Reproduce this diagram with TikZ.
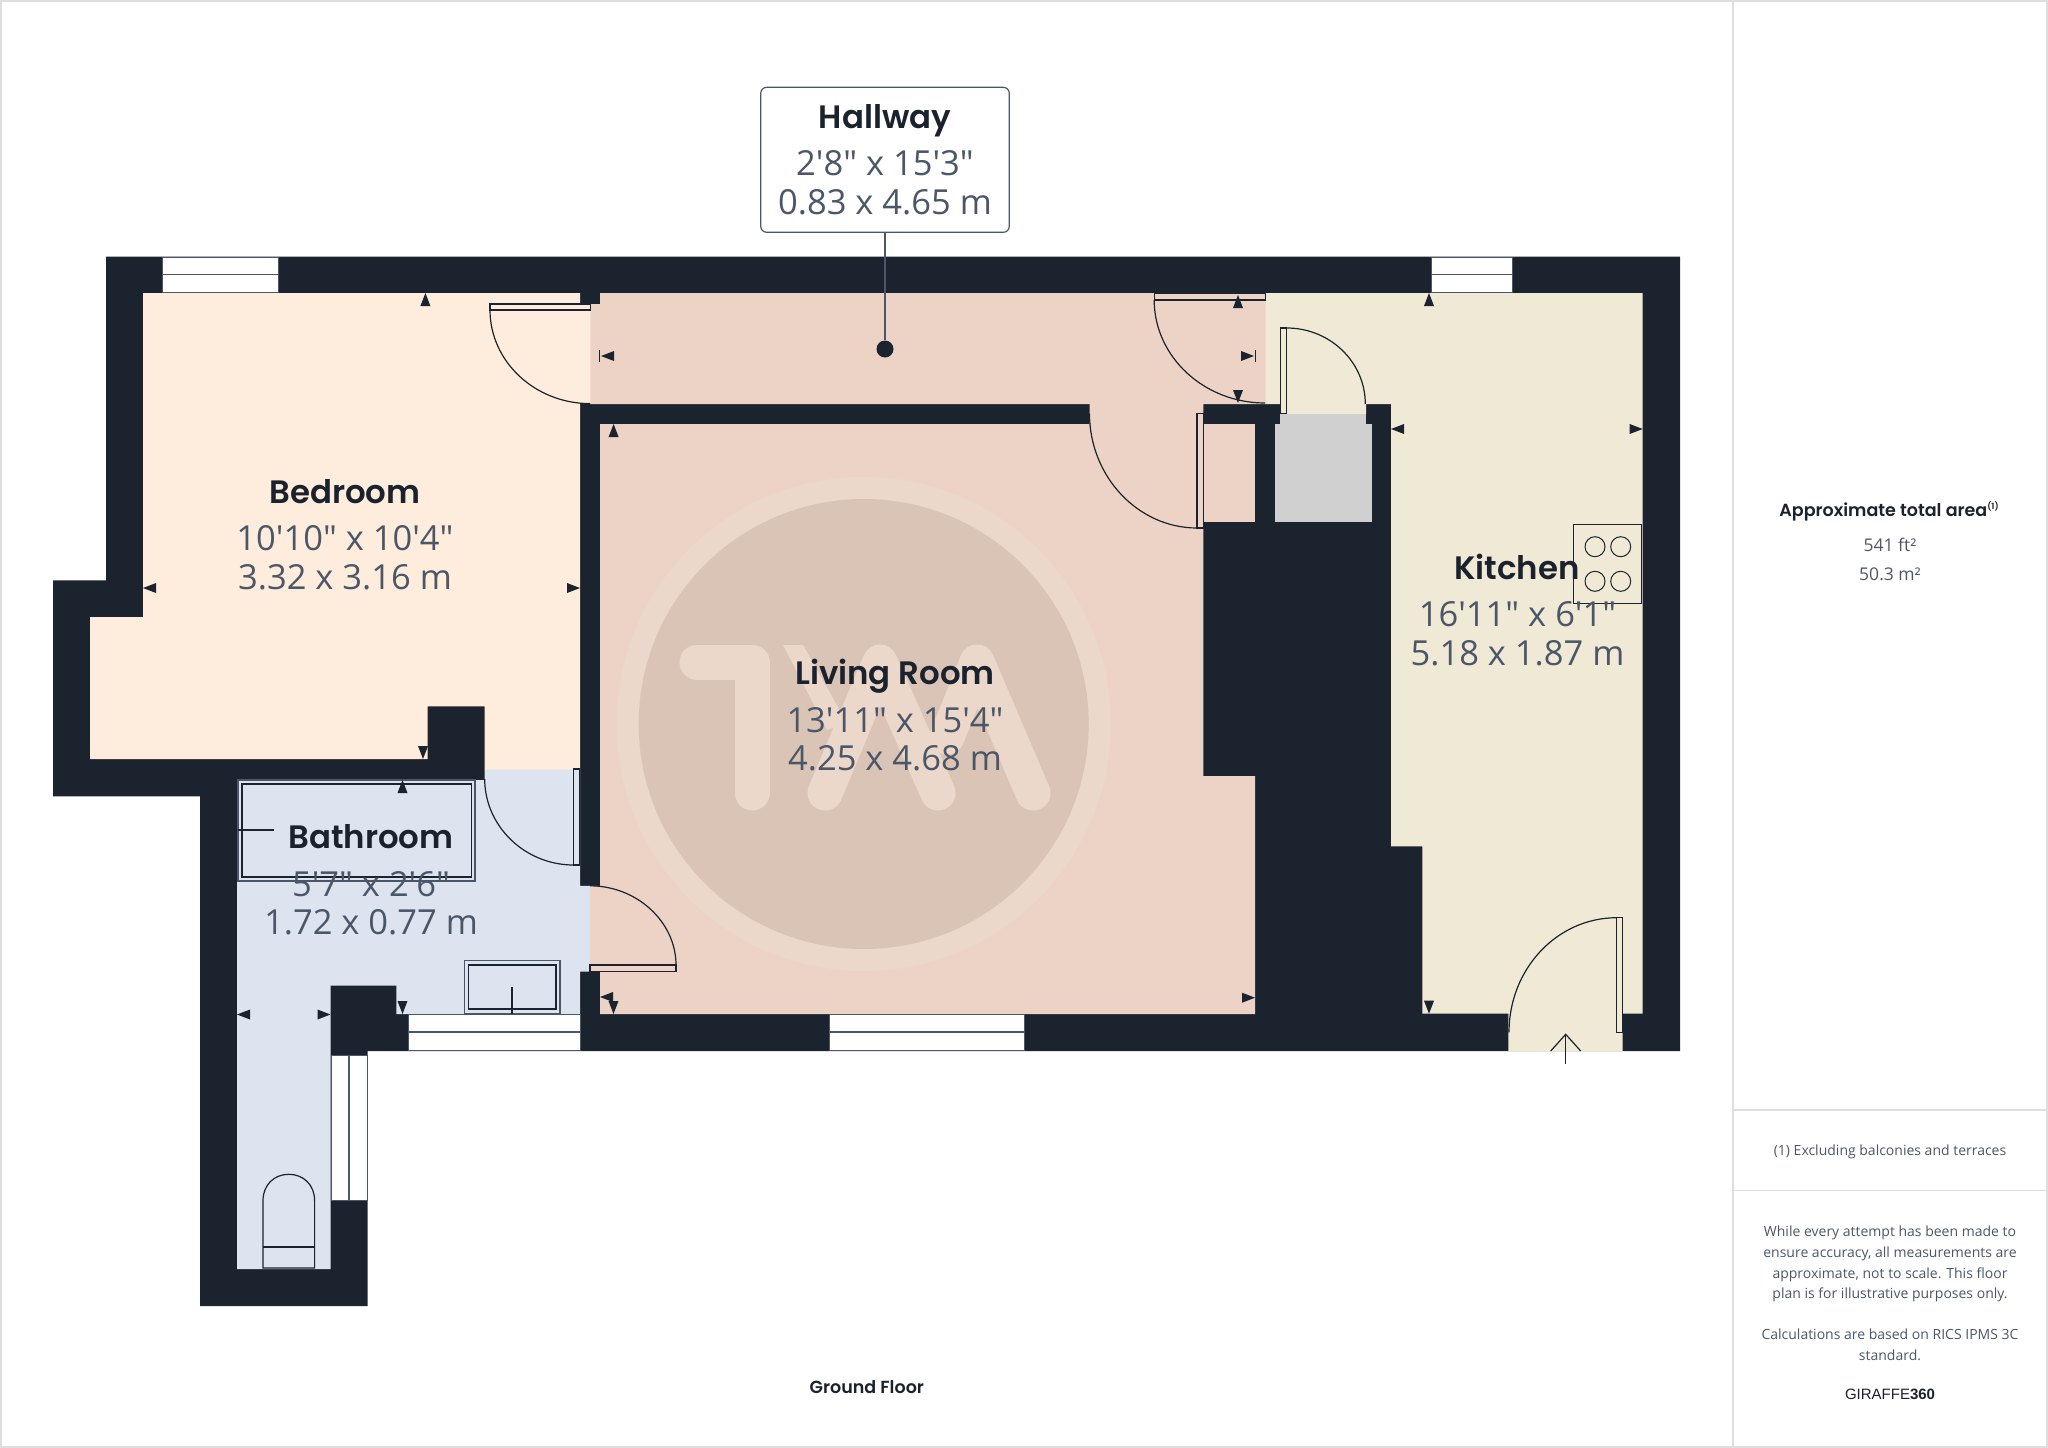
\documentclass[tikz,border=0pt]{standalone}
\usepackage{fontspec}
\newfontfamily\dimfont{Open Sans}
\newfontfamily\titlefont{Poppins SemiBold}
\newfontfamily\brandfont{Liberation Sans}
\definecolor{wallc}{HTML}{1B232E}
\definecolor{bedc}{HTML}{FEEDDC}
\definecolor{livec}{HTML}{ECD3C5}
\definecolor{bathc}{HTML}{DDE3EF}
\definecolor{kitc}{HTML}{F0E9D6}
\definecolor{greyc}{HTML}{D0D0D0}
\definecolor{ringc}{HTML}{ECD8CA}
\definecolor{discc}{HTML}{DAC4B6}
\definecolor{inkc}{HTML}{1A222E}
\definecolor{dimc}{HTML}{4B5768}
\definecolor{rulec}{HTML}{DEDEDE}
\tikzset{
roomname/.style={anchor=base, inner sep=0, text=inkc, font=\titlefont\fontsize{32.4}{36}\selectfont},
roomsize/.style={anchor=north, inner sep=0, align=center, text=dimc, font=\dimfont\fontsize{34.5}{38.5}\selectfont},
sidetext/.style={anchor=base, inner sep=0, text=dimc, font=\dimfont\fontsize{14}{20.6}\selectfont},
fitting/.style={draw=wallc, line width=1.2},
glass/.style={fill=white, draw=dimc, line width=0.5},
mkup/.pic={\fill[wallc] (0,0) -- (5,13) -- (-5,13) -- cycle;},
mkdown/.pic={\fill[wallc] (0,0) -- (5,-13) -- (-5,-13) -- cycle;},
mkleft/.pic={\fill[wallc] (0,0) -- (13,5) -- (13,-5) -- cycle;},
mkright/.pic={\fill[wallc] (0,0) -- (-13,5) -- (-13,-5) -- cycle;},
burner/.pic={\draw[fitting, line width=1] (0,0) circle [radius=10];}
}
\begin{document}
\begin{tikzpicture}[x=1pt,y=-1pt]
  \useasboundingbox (0,0) rectangle (2048,1448);
  \draw[rulec, line width=1.5] (1,1) rectangle (2047,1447);
  \draw[rulec, line width=1.5] (1733,1) -- (1733,1447);
  \draw[rulec, line width=1.5] (1733,1110) -- (2047,1110);
  \draw[rulec, line width=1.5] (1733,1190.5) -- (2047,1190.5);
  % walls
  \fill[wallc] (106,256.5) -- (1680,256.5) -- (1680,1051) -- (367.7,1051) -- (367.7,1306) -- (200,1306)
    -- (200,796.4) -- (53,796.4) -- (53,580.4) -- (106,580.4) -- cycle;
  % rooms
  \fill[bedc] (143,293) -- (580,293) -- (580,304) -- (591,304) -- (591,403.6) -- (580,403.6) -- (580,770.2)
    -- (484.5,770.2) -- (484.5,706.4) -- (427.7,706.4) -- (427.7,759) -- (90,759) -- (90,617) -- (143,617) -- cycle;
  \fill[livec] (600,293) -- (1266.2,293) -- (1266.2,404) -- (590.4,404) -- (590.4,304) -- (600,304) -- cycle;
  \fill[livec] (600,424) -- (1089.5,424) -- (1089.5,403) -- (1203.3,403) -- (1203.3,776) -- (1255,776) -- (1255,1014)
    -- (600,1014) -- (600,971.6) -- (589.5,971.6) -- (589.5,885.8) -- (600,885.8) -- cycle;
  \fill[livec] (1203.3,423.7) rectangle (1255,521.7);
  \fill[bathc] (484.5,769.6) -- (580,769.6) -- (580,885.8) -- (590,885.8) -- (590,971.6) -- (580,971.6) -- (580,1014)
    -- (396.3,1014) -- (396.3,985.7) -- (330.5,985.7) -- (330.5,1269) -- (237,1269) -- (237,780) -- (484.5,780) -- cycle;
  \fill[kitc] (1265.7,293) -- (1642.7,293) -- (1642.7,1013.7) -- (1622.7,1013.7) -- (1622.7,1051) -- (1508.3,1051)
    -- (1508.3,1013.7) -- (1422.3,1013.7) -- (1422.3,846.3) -- (1391,846.3) -- (1391,404) -- (1366,404) -- (1366,414)
    -- (1280,414) -- (1280,404) -- (1265.7,404) -- cycle;
  \fill[greyc] (1275,424) rectangle (1371.7,521.7);
  \fill[greyc] (1280,414) rectangle (1366,424.5);
  % watermark
  \fill[ringc] (863.7,724) circle [radius=247];
  \fill[discc] (863.7,724) circle [radius=225];
  \draw[ringc, line width=35, line cap=round, line join=round] (697,662) -- (752,662) -- (752,793);
  \draw[ringc, line width=35, line cap=round, line join=round] (825,793) -- (880,662) -- (938,793);
  \draw[ringc, line width=35, line cap=round, line join=round] (947,737) -- (977,662) -- (1033,793);
  \fill[ringc] (783,645) -- (803,645) -- (847,723) -- (827,730) -- cycle;
  % windows
  \draw[glass] (162,257.5) rectangle (278,292);
  \draw[dimc, line width=1.5] (162,274.6) -- (278,274.6);
  \draw[glass] (1431,257.5) rectangle (1512.7,292);
  \draw[dimc, line width=1.5] (1431,274.6) -- (1512.7,274.6);
  \draw[glass] (829.3,1014.5) rectangle (1024,1050);
  \draw[dimc, line width=1.5] (829.3,1032) -- (1024,1032);
  \draw[glass] (408.3,1014.5) rectangle (580,1050);
  \draw[dimc, line width=1.5] (408.3,1032) -- (580,1032);
  \draw[glass] (331.5,1055.6) rectangle (367,1200);
  \draw[dimc, line width=1.5] (349,1055.6) -- (349,1200);
  % doors
  \draw[fitting, fill=bedc] (490,304) rectangle (590.4,310);
  \draw[fitting] (490,310) .. controls (490,361.5) and (535,403.6) .. (590,403.6);
  \draw[fitting, fill=livec] (1154.2,293) rectangle (1265.7,300);
  \draw[fitting] (1154.2,300) .. controls (1154.2,356.7) and (1204,403) .. (1265,403);
  \draw[fitting, fill=livec] (1197,413.6) rectangle (1203.3,528);
  \draw[fitting] (1089.5,413.6) .. controls (1089.5,476.5) and (1138,528) .. (1197,528);
  \draw[fitting, fill=bathc] (573.6,769) rectangle (579.4,865);
  \draw[fitting] (484.7,779) .. controls (484.7,826) and (524.7,865) .. (573.6,865);
  \draw[fitting, fill=livec] (590,965) rectangle (676,971.6);
  \draw[fitting] (590,885.8) .. controls (637,885.8) and (676,922) .. (676,965);
  \draw[fitting, fill=kitc] (1280.7,328) rectangle (1286.7,413.7);
  \draw[fitting] (1286.7,328) .. controls (1330,328) and (1365.3,362) .. (1365.3,404);
  \draw[fitting, fill=kitc] (1616.7,917.7) rectangle (1622.7,1032.3);
  \draw[fitting] (1616.7,917.7) .. controls (1557,917.7) and (1509,969) .. (1509,1032.3);
  % bath, basin, toilet, hob
  \draw[fitting, draw=dimc] (238,780) rectangle (475,881);
  \draw[fitting] (242,784) rectangle (471.3,877);
  \draw[fitting] (238,830) -- (273.7,830);
  \draw[fitting, draw=dimc] (464.4,960.5) rectangle (560,1014);
  \draw[fitting] (468.6,965) rectangle (556,1009);
  \draw[fitting] (512,987) -- (512,1014);
  \draw[fitting] (263,1268) -- (263,1200.6) .. controls (263,1185) and (274,1174.3) .. (288.8,1174.3)
    .. controls (303.6,1174.3) and (314.6,1185) .. (314.6,1200.6) -- (314.6,1268) -- cycle;
  \draw[fitting] (263,1247) -- (314.6,1247);
  \draw[fitting, line width=1] (1573.7,524.3) rectangle (1641.7,603.3);
  \pic at (1595,546.7) {burner};
  \pic at (1620.7,546.7) {burner};
  \pic at (1595,581.3) {burner};
  \pic at (1620.7,581.3) {burner};
  % measure marks
  \pic at (425.4,293) {mkup};
  \pic at (143,588) {mkleft};
  \pic at (580,588) {mkright};
  \pic at (423,759) {mkdown};
  \pic at (601,356) {mkleft};
  \draw[fitting, line width=1] (599,350) -- (599,362);
  \pic at (1254,356) {mkright};
  \draw[fitting, line width=1] (1255,350) -- (1255,362);
  \pic at (1238,295) {mkup};
  \pic at (1238,403) {mkdown};
  \pic at (613.6,424) {mkup};
  \pic at (1255,997.7) {mkright};
  \pic at (600,997) {mkleft};
  \pic at (613.5,1014) {mkdown};
  \pic at (402.5,780) {mkup};
  \pic at (237,1014.5) {mkleft};
  \pic at (330.5,1014.5) {mkright};
  \pic at (402.5,1014) {mkdown};
  \pic at (1429,293) {mkup};
  \pic at (1391,429) {mkleft};
  \pic at (1642.7,429) {mkright};
  \pic at (1429,1013.7) {mkdown};
  % entrance
  \coordinate (entrytail) at (1565.7,1064.3);
  \coordinate (entrytip) at (1565.7,1034.3);
  \coordinate (entryleft) at (1550.7,1051);
  \coordinate (entryright) at (1580.7,1051);
  \draw[fitting] (entrytail) -- (entrytip);
  \draw[fitting] (entryleft) -- (entrytip) -- (entryright);
  % labels
  \node[roomname] (bedname) at (345,503.6) {Bedroom};
  \node[roomsize] (bedsize) at (345,525.7) {10'10" x 10'4"\\3.32 x 3.16 m};
  \node[roomname] (livename) at (895,684.3) {Living Room};
  \node[roomsize] (livesize) at (895,706.9) {13'11" x 15'4"\\4.25 x 4.68 m};
  \node[roomname] (kitname) at (1517,579.3) {Kitchen};
  \node[roomsize] (kitsize) at (1517.5,601.5) {16'11" x 6'1"\\5.18 x 1.87 m};
  \node[roomname] (bathname) at (371,848) {Bathroom};
  \node[roomsize] (bathsize) at (371,871) {5'7" x 2'6"\\1.72 x 0.77 m};
  \draw[fitting, draw=dimc, fill=white, rounded corners=6] (760.7,87.3) rectangle (1009.3,232.3);
  \node[roomname] (hallname) at (885,128.3) {Hallway};
  \node[roomsize] (hallsize) at (885,150.7) {2'8" x 15'3"\\0.83 x 4.65 m};
  \coordinate (hallfoot) at (885,232.3);
  \node[circle, fill=wallc, inner sep=0, minimum size=17] (halldot) at (885,349) {};
  \draw[fitting, draw=dimc] (hallfoot) -- (halldot);
  \node[roomname, font=\titlefont\fontsize{17.5}{20}\selectfont] (floorname) at (866.8,1393.5) {Ground Floor};
  % side panel
  \node[roomname, font=\titlefont\fontsize{17.5}{20}\selectfont] (areaname) at (1889,516.7) {Approximate total area\raisebox{7pt}{\fontsize{8.5}{9}\selectfont (1)}};
  \node[sidetext, font=\dimfont\fontsize{17.5}{20}\selectfont] (areaft) at (1890,551) {541 ft²};
  \node[sidetext, font=\dimfont\fontsize{17.5}{20}\selectfont] (aream) at (1890,580.3) {50.3 m²};
  \node[sidetext] (footnote) at (1890,1155.5) {(1) Excluding balconies and terraces};
  \node[sidetext, anchor=north, align=center] (notice) at (1890,1226) {While every attempt has been made to\\ensure accuracy, all measurements are\\approximate, not to scale. This floor\\plan is for illustrative purposes only.\\[20.6pt]Calculations are based on RICS IPMS 3C\\standard.};
  \node[sidetext, text=inkc, font=\brandfont\fontsize{15}{18}\selectfont] (brand) at (1890,1399.3) {GIRAFFE{\bfseries 360}};
\end{tikzpicture}
\end{document}
